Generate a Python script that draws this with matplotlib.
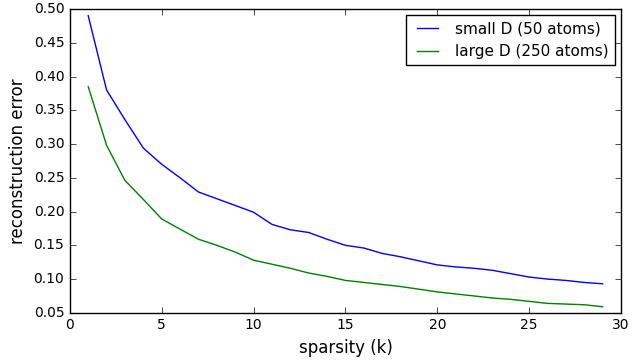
import numpy as np
import matplotlib
matplotlib.use('Agg')
import matplotlib.pyplot as plt

plt.style.use('classic')

# sparsity levels
k = list(range(1, 30))

# reconstruction error, small dictionary (50 atoms)
err_small = [0.490, 0.380, 0.336, 0.294, 0.270, 0.250, 0.229, 0.219, 0.209, 0.199,
             0.181, 0.173, 0.169, 0.159, 0.150, 0.146, 0.138, 0.133, 0.127, 0.121,
             0.118, 0.116, 0.113, 0.108, 0.103, 0.100, 0.098, 0.095, 0.093]

# reconstruction error, large dictionary (250 atoms)
err_large = [0.385, 0.298, 0.246, 0.218, 0.189, 0.174, 0.159, 0.150, 0.140, 0.128,
             0.122, 0.116, 0.109, 0.104, 0.098, 0.095, 0.092, 0.089, 0.085, 0.081,
             0.078, 0.075, 0.072, 0.070, 0.067, 0.064, 0.063, 0.062, 0.059]

fig = plt.figure(figsize=(6.35, 3.6), dpi=100, facecolor='white')
ax = fig.add_axes([0.110, 0.131, 0.868, 0.844])

ax.plot(k, err_small, 'b', lw=1, label='small D (50 atoms)')
ax.plot(k, err_large, 'g', lw=1, label='large D (250 atoms)')

ax.set_xlim(0, 30)
ax.set_ylim(0.05, 0.50)
ax.set_yticks(np.arange(0.05, 0.501, 0.05))
ax.set_yticklabels(['%.2f' % v for v in np.arange(0.05, 0.501, 0.05)])
ax.tick_params(labelsize=10)
ax.set_xlabel('sparsity (k)', fontsize=12)
ax.set_ylabel('reconstruction error', fontsize=12)
ax.legend(loc='upper right', fontsize=11, fancybox=False, borderaxespad=0.4)

fig.savefig('out.png', dpi=100, facecolor='white')
